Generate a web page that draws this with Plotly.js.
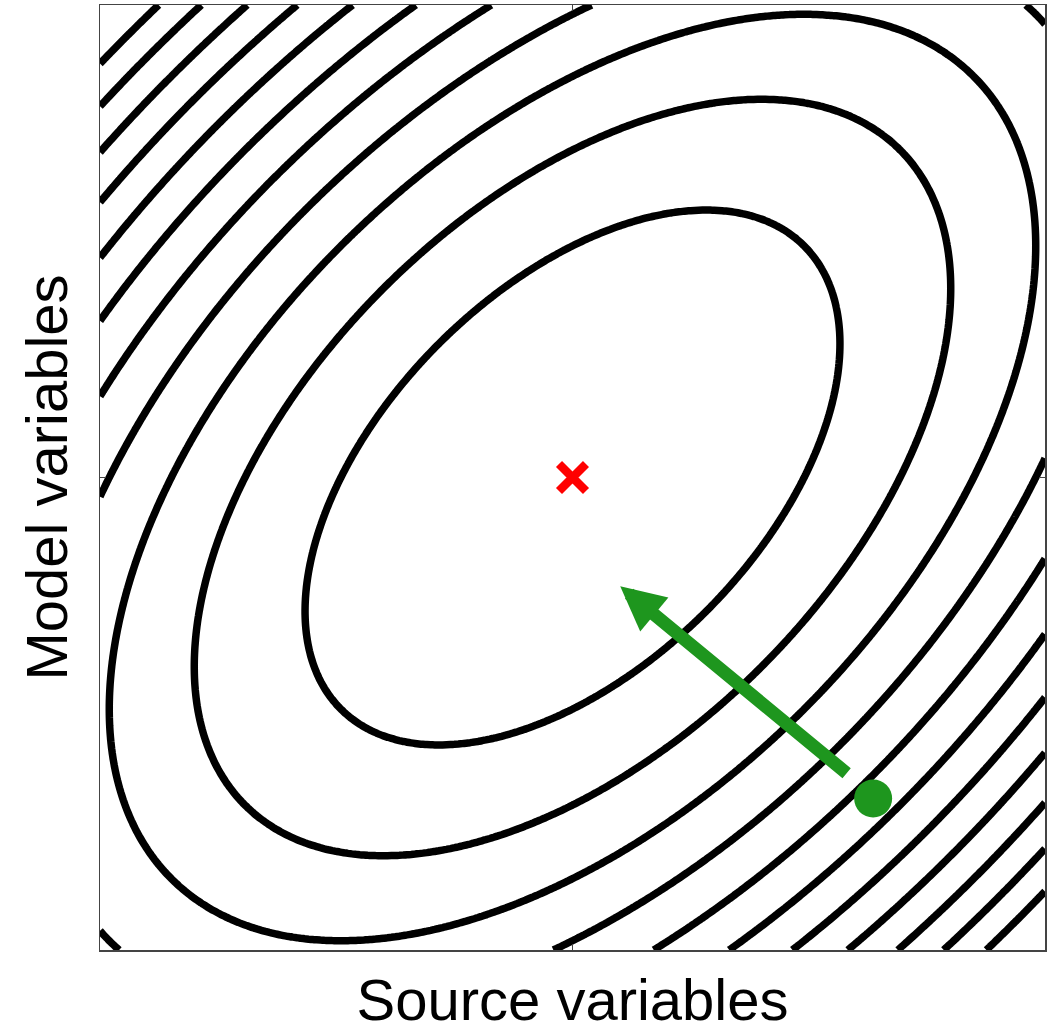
<!DOCTYPE html>
<html>
<head>
<meta charset="utf-8">
<script src="https://cdn.plot.ly/plotly-3.0.1.min.js"></script>
<style>html,body{margin:0;padding:0;background:#fff;}#chart{width:1051px;height:1032px;}</style>
</head>
<body>
<div id="chart"></div>
<script>
// Quadratic bowl: f(x,y) = a*x^2 + b*y^2 - 2*c*x*y
const quadCoef = [1.0, 1.0, 0.5];            // a, b, c
const contourLevels = [0.25, 2.75, 0.25];    // start, end, step
const axisRange = [-1.02, 1.02];
const gridCount = 241;
const optimumX = [0];
const optimumY = [0];
const startX = [0.649];
const startY = [-0.693];
const arrowTail = [0.595, -0.641];
const arrowTip = [0.103, -0.235];
const xTitle = "Source variables";
const yTitle = "Model variables";

const gx = [], gy = [];
for (let i = 0; i < gridCount; i++) {
  const v = axisRange[0] + (axisRange[1] - axisRange[0]) * i / (gridCount - 1);
  gx.push(v); gy.push(v);
}
const z = gy.map(y => gx.map(x => quadCoef[0]*x*x + quadCoef[1]*y*y - 2*quadCoef[2]*x*y));

const traces = [
  {
    type: 'contour', x: gx, y: gy, z: z,
    contours: {coloring: 'lines', start: contourLevels[0], end: contourLevels[1], size: contourLevels[2]},
    line: {color: 'black', width: 7.5, smoothing: 1},
    colorscale: [[0, 'black'], [1, 'black']],
    showscale: false, hoverinfo: 'skip'
  },
  {
    type: 'scatter', mode: 'markers', x: optimumX, y: optimumY,
    marker: {symbol: 'x-thin', size: 27, color: 'red', line: {color: 'red', width: 8.5}},
    hoverinfo: 'skip'
  },
  {
    type: 'scatter', mode: 'markers', x: startX, y: startY,
    marker: {symbol: 'circle', size: 38, color: 'rgb(30,150,30)'},
    hoverinfo: 'skip'
  }
];

const axisCommon = {
  range: axisRange, showgrid: false, zeroline: false,
  ticks: 'inside', tickvals: [0], ticklen: 6, tickwidth: 1, tickcolor: '#444',
  showticklabels: false, showline: true, linecolor: '#444', linewidth: 1.5, mirror: 'ticks',
  fixedrange: true
};

const layout = {
  width: 1051, height: 1032,
  margin: {l: 100, r: 6, t: 5, b: 82},
  paper_bgcolor: 'white', plot_bgcolor: 'white',
  showlegend: false,
  font: {family: 'Liberation Sans, Arial, sans-serif', color: 'black'},
  xaxis: Object.assign({}, axisCommon, {title: {text: xTitle, font: {size: 58}, standoff: 32}}),
  yaxis: Object.assign({}, axisCommon, {title: {text: yTitle, font: {size: 58}, standoff: 12}}),
  annotations: [{
    x: arrowTip[0], y: arrowTip[1], ax: arrowTail[0], ay: arrowTail[1],
    xref: 'x', yref: 'y', axref: 'x', ayref: 'y',
    text: '', showarrow: true, arrowhead: 2, arrowsize: 0.68, arrowwidth: 13,
    arrowcolor: 'rgb(30,150,30)', standoff: 0, startstandoff: 0
  }]
};

Plotly.newPlot('chart', traces, layout, {displayModeBar: false, staticPlot: true});
</script>
</body>
</html>
